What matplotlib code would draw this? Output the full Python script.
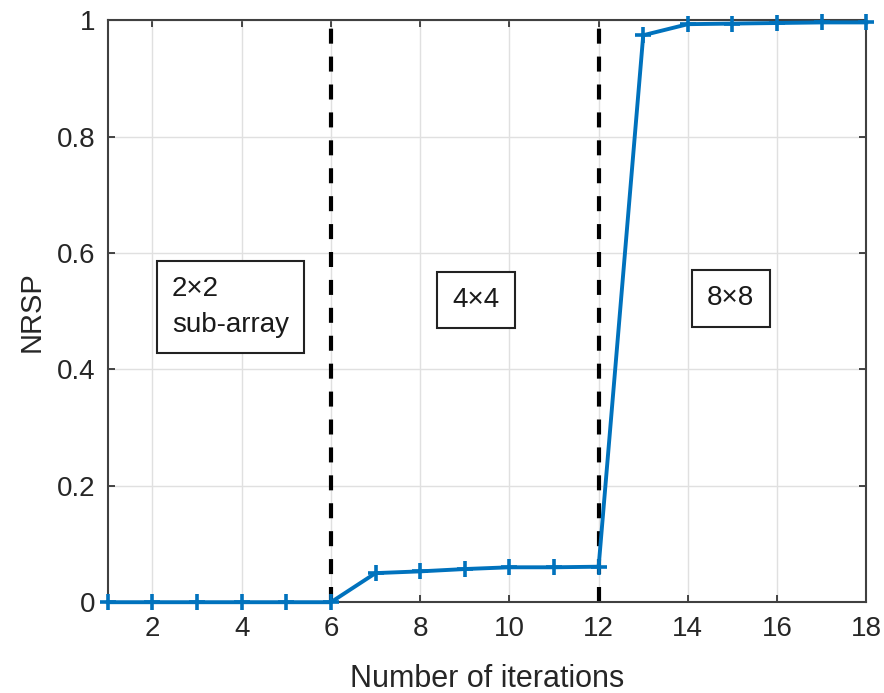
import matplotlib
matplotlib.use("Agg")
import matplotlib.pyplot as plt

plt.rcParams['font.family'] = ['Liberation Sans', 'DejaVu Sans']

# NRSP per iteration (sub-array grows 2x2 -> 4x4 -> 8x8)
iterations = [1, 2, 3, 4, 5, 6, 7, 8, 9, 10, 11, 12, 13, 14, 15, 16, 17, 18]
nrsp = [0.0, 0.0, 0.0, 0.0, 0.0, 0.0, 0.050, 0.053, 0.057, 0.060, 0.060, 0.061,
        0.974, 0.993, 0.994, 0.995, 0.996, 0.996]
switch_points = [6, 12]
stage_labels = ["2×2\nsub-array", "4×4", "8×8"]
label_x = [2.44, 8.72, 14.43]
label_y = [0.507, 0.519, 0.522]

fig = plt.figure(figsize=(8.84, 6.93), dpi=100)
ax = fig.add_axes([0.122, 0.131, 0.858, 0.840])

ax.plot(iterations, nrsp, color="#0072BD", linewidth=2.8, marker="+",
        markersize=12, markeredgewidth=2.6, zorder=3, clip_on=False)

for xs in switch_points:
    ax.axvline(xs, color="black", linestyle=(0, (3.6, 3.1)), linewidth=3, zorder=2)

for txt, tx, ty in zip(stage_labels, label_x, label_y):
    ax.text(tx, ty, txt, ha="left", va="center", fontsize=20, linespacing=1.5,
            color="#1a1a1a",
            bbox=dict(boxstyle="square,pad=0.55", facecolor="white",
                      edgecolor="#222222", linewidth=1.5), zorder=4)

ax.set_xlim(1, 18)
ax.set_ylim(0, 1)
ax.set_xticks(range(2, 19, 2))
ax.set_yticks([0, 0.2, 0.4, 0.6, 0.8, 1.0])
ax.set_yticklabels(["0", "0.2", "0.4", "0.6", "0.8", "1"])
ax.tick_params(direction="in", labelsize=20, length=5, width=1.2, colors="#262626",
               top=True, right=True)
ax.tick_params(axis="x", pad=10)
ax.tick_params(axis="y", pad=9)
ax.grid(True, color="#e0e0e0", linewidth=1)
ax.set_axisbelow(True)
for s in ax.spines.values():
    s.set_color("#404040")
    s.set_linewidth(1.5)

ax.set_xlabel("Number of iterations", fontsize=22, color="#262626", labelpad=16)
ax.set_ylabel("NRSP", fontsize=21, color="#262626", labelpad=8)

fig.savefig("out.png", dpi=100)
